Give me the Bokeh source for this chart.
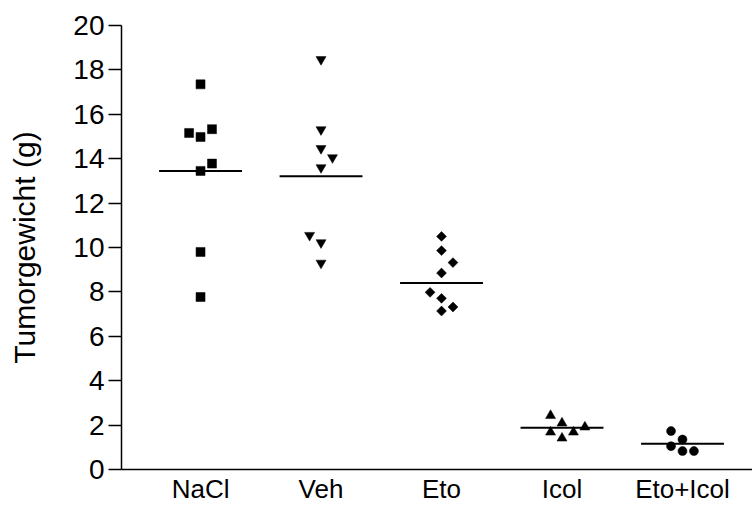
from bokeh.plotting import figure
from bokeh.models import Range1d, FixedTicker
from bokeh.embed import file_html
from bokeh.resources import INLINE

groups = ["NaCl", "Veh", "Eto", "Icol", "Eto+Icol"]

nacl = [17.35, 15.16, 14.98, 15.33, 13.78, 13.45, 9.80, 7.77]
veh = [18.47, 15.31, 14.46, 14.05, 13.60, 10.55, 10.22, 9.30]
eto = [10.50, 9.86, 9.32, 8.85, 7.98, 7.71, 7.32, 7.14]
icol = [2.43, 2.09, 1.68, 1.68, 1.91, 1.41]
eto_icol = [1.73, 1.35, 1.05, 0.83, 0.83]

# beeswarm slot of every point (left -1, centre 0, right +1, +2)
nacl_slot = [0, -1, 0, 1, 1, 0, 0, 0]
veh_slot = [0, 0, 0, 1, 0, -1, 0, 0]
eto_slot = [0, 0, 1, 0, -1, 0, 1, 0]
icol_slot = [-1, 0, -1, 1, 2, 0]
eto_icol_slot = [-1, 0, -1, 0, 1]

means = [13.45, 13.21, 8.40, 1.88, 1.16]

y_ticks = [0, 2, 4, 6, 8, 10, 12, 14, 16, 18, 20]

FONT = "Liberation Sans"
SLOT = 0.095
HALF = 0.344

p = figure(width=752, height=506,
           x_range=Range1d(0.344, 5.581), y_range=Range1d(0, 20),
           output_backend="svg", toolbar_location=None,
           min_border_left=121, min_border_right=0,
           min_border_top=25, min_border_bottom=37)
p.outline_line_color = None
p.xgrid.visible = False
p.ygrid.visible = False
p.background_fill_color = "white"

series = [
    (nacl, nacl_slot, "square", 9, 0.0),
    (veh, veh_slot, "inverted_triangle", 10, 0.0),
    (eto, eto_slot, "square", 7, 0.785398),
    (icol, icol_slot, "triangle", 10, 0.0),
    (eto_icol, eto_icol_slot, "circle", 9, 0.0),
]
for i, (vals, slots, marker, size, ang) in enumerate(series):
    xs = [i + 1 + s * SLOT for s in slots]
    p.scatter(xs, vals, marker=marker, size=size, angle=ang,
              fill_color="black", line_color="black", line_width=0.5)

cx = [i + 1 for i in range(len(groups))]
p.segment(x0=[c - HALF for c in cx], x1=[c + HALF for c in cx],
          y0=means, y1=means, line_color="black", line_width=2)

xa = p.xaxis[0]
xa.ticker = FixedTicker(ticks=cx)
xa.major_label_overrides = {c: g for c, g in zip(cx, groups)}
xa.major_tick_out = 0
xa.major_tick_in = 0
xa.minor_tick_out = 0
xa.minor_tick_in = 0
xa.axis_line_width = 1.5
xa.axis_line_color = "black"
xa.major_label_text_font = FONT
xa.major_label_text_font_size = "26px"
xa.major_label_text_color = "black"
xa.major_label_standoff = 4

ya = p.yaxis[0]
ya.ticker = FixedTicker(ticks=y_ticks)
ya.axis_label = "Tumorgewicht (g)"
ya.axis_label_text_font = FONT
ya.axis_label_text_font_size = "30px"
ya.axis_label_text_font_style = "normal"
ya.axis_label_text_color = "black"
ya.axis_label_standoff = 29
ya.major_tick_out = 13
ya.major_tick_in = 0
ya.minor_tick_out = 0
ya.minor_tick_in = 0
ya.major_tick_line_width = 1.5
ya.axis_line_width = 1.5
ya.major_label_text_font = FONT
ya.major_label_text_font_size = "28px"
ya.major_label_text_color = "black"
ya.major_label_standoff = 4

open("out.html", "w").write(file_html(p, INLINE))
